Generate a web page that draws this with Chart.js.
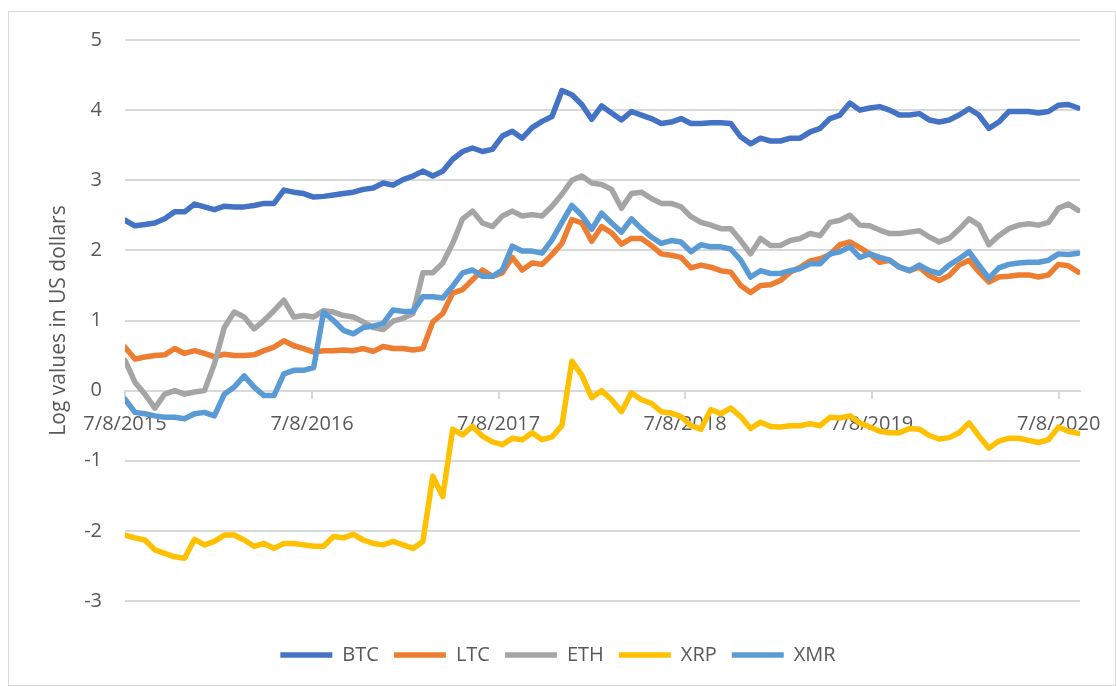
<!DOCTYPE html>
<html>
<head>
<meta charset="utf-8">
<script src="https://cdn.jsdelivr.net/npm/chart.js@4.4.0/dist/chart.umd.min.js"></script>
<style>
  html, body { margin: 0; padding: 0; background: #fff; }
  #wrap { position: relative; width: 1116px; height: 686px; overflow: hidden; }
  #frame { position: absolute; left: 8px; top: 11px; width: 1106px; height: 673px; border: 1px solid #d9d9d9; pointer-events: none; }
  canvas { position: absolute; left: 0; top: 0; }
</style>
</head>
<body>
<div id="wrap">
  <canvas id="chart" width="1116" height="686"></canvas>
  <div id="frame"></div>
</div>
<script>
// 目盛りラベル（x軸は 7/8/2015 からの日数）
const tickDays = [0, 366, 731, 1096, 1461, 1827];
const tickLabels = ['7/8/2015', '7/8/2016', '7/8/2017', '7/8/2018', '7/8/2019', '7/8/2020'];

// 系列名と色
const seriesNames = ['BTC', 'LTC', 'ETH', 'XRP', 'XMR'];
const seriesColors = ['#4472C4', '#ED7D31', '#A5A5A5', '#FFC000', '#5B9BD5'];

// 対数値（約19.4日ごと、画像から読み取り）
const btc = [
  2.43, 2.35, 2.37, 2.39, 2.45, 2.55, 2.55, 2.66, 2.62, 2.58,
  2.63, 2.62, 2.62, 2.64, 2.67, 2.67, 2.86, 2.83, 2.81, 2.76,
  2.77, 2.79, 2.81, 2.83, 2.87, 2.89, 2.96, 2.93, 3.01, 3.06,
  3.13, 3.06, 3.13, 3.30, 3.41, 3.46, 3.41, 3.44, 3.63, 3.70,
  3.60, 3.75, 3.84, 3.91, 4.28, 4.22, 4.08, 3.87, 4.06, 3.96,
  3.86, 3.98, 3.93, 3.88, 3.81, 3.83, 3.88, 3.81, 3.81, 3.82,
  3.82, 3.81, 3.62, 3.52, 3.60, 3.56, 3.56, 3.60, 3.60, 3.69,
  3.74, 3.88, 3.93, 4.10, 4.00, 4.03, 4.05, 4.00, 3.93, 3.93,
  3.95, 3.86, 3.83, 3.86, 3.93, 4.02, 3.93, 3.74, 3.83, 3.98,
  3.98, 3.98, 3.96, 3.98, 4.07, 4.08, 4.03
];
const ltc = [
  0.62, 0.45, 0.48, 0.50, 0.51, 0.60, 0.53, 0.57, 0.53, 0.48,
  0.52, 0.50, 0.50, 0.51, 0.57, 0.62, 0.71, 0.64, 0.60, 0.55,
  0.57, 0.57, 0.58, 0.57, 0.60, 0.56, 0.63, 0.60, 0.60, 0.58,
  0.60, 0.98, 1.10, 1.39, 1.44, 1.58, 1.72, 1.63, 1.68, 1.90,
  1.72, 1.82, 1.80, 1.94, 2.10, 2.44, 2.39, 2.13, 2.34, 2.25,
  2.09, 2.17, 2.17, 2.07, 1.95, 1.93, 1.90, 1.75, 1.79, 1.76,
  1.71, 1.69, 1.50, 1.40, 1.50, 1.51, 1.57, 1.69, 1.76, 1.85,
  1.88, 1.94, 2.08, 2.12, 2.04, 1.95, 1.83, 1.86, 1.76, 1.71,
  1.76, 1.64, 1.57, 1.64, 1.79, 1.86, 1.69, 1.55, 1.62, 1.63,
  1.65, 1.65, 1.62, 1.65, 1.80, 1.78, 1.69
];
const eth = [
  0.43, 0.12, -0.05, -0.25, -0.05, 0.00, -0.05, -0.02, 0.00, 0.38,
  0.90, 1.12, 1.05, 0.88, 1.00, 1.14, 1.29, 1.05, 1.07, 1.05,
  1.14, 1.12, 1.07, 1.05, 0.98, 0.90, 0.87, 0.99, 1.03, 1.10,
  1.68, 1.68, 1.82, 2.10, 2.45, 2.56, 2.39, 2.34, 2.49, 2.56,
  2.49, 2.51, 2.49, 2.63, 2.80, 3.00, 3.06, 2.96, 2.94, 2.87,
  2.60, 2.81, 2.83, 2.74, 2.67, 2.67, 2.62, 2.48, 2.40, 2.36,
  2.31, 2.31, 2.14, 1.95, 2.17, 2.07, 2.07, 2.14, 2.17, 2.24,
  2.21, 2.40, 2.43, 2.50, 2.36, 2.35, 2.29, 2.24, 2.24, 2.26,
  2.28, 2.19, 2.12, 2.17, 2.30, 2.45, 2.36, 2.08, 2.21, 2.31,
  2.36, 2.38, 2.36, 2.40, 2.60, 2.66, 2.57
];
const xrp = [
  -2.06, -2.10, -2.13, -2.27, -2.32, -2.37, -2.39, -2.12, -2.20, -2.15,
  -2.06, -2.06, -2.13, -2.22, -2.18, -2.25, -2.18, -2.18, -2.20, -2.22,
  -2.22, -2.08, -2.10, -2.05, -2.13, -2.18, -2.20, -2.15, -2.20, -2.25,
  -2.15, -1.22, -1.51, -0.55, -0.63, -0.51, -0.65, -0.73, -0.77, -0.68,
  -0.70, -0.60, -0.70, -0.66, -0.50, 0.42, 0.22, -0.10, 0.00, -0.13,
  -0.30, -0.03, -0.13, -0.18, -0.30, -0.32, -0.37, -0.50, -0.55, -0.27,
  -0.33, -0.25, -0.37, -0.54, -0.45, -0.51, -0.52, -0.50, -0.50, -0.47,
  -0.50, -0.38, -0.39, -0.36, -0.46, -0.52, -0.58, -0.60, -0.60, -0.54,
  -0.55, -0.64, -0.69, -0.67, -0.60, -0.46, -0.65, -0.82, -0.72, -0.68,
  -0.68, -0.71, -0.74, -0.70, -0.52, -0.58, -0.61
];
const xmr = [
  -0.12, -0.31, -0.33, -0.36, -0.38, -0.38, -0.40, -0.33, -0.31, -0.36,
  -0.05, 0.05, 0.21, 0.05, -0.07, -0.07, 0.24, 0.29, 0.29, 0.33,
  1.12, 1.00, 0.86, 0.81, 0.90, 0.92, 0.96, 1.15, 1.13, 1.13,
  1.34, 1.34, 1.32, 1.49, 1.68, 1.72, 1.63, 1.63, 1.72, 2.06,
  1.99, 1.99, 1.96, 2.15, 2.40, 2.64, 2.50, 2.30, 2.53, 2.39,
  2.26, 2.45, 2.31, 2.19, 2.10, 2.14, 2.12, 1.98, 2.08, 2.05,
  2.05, 2.02, 1.86, 1.62, 1.71, 1.67, 1.67, 1.71, 1.74, 1.81,
  1.81, 1.95, 1.98, 2.05, 1.90, 1.95, 1.90, 1.86, 1.76, 1.71,
  1.79, 1.71, 1.67, 1.79, 1.88, 1.98, 1.79, 1.60, 1.75, 1.80,
  1.82, 1.83, 1.83, 1.86, 1.95, 1.94, 1.96
];

const seriesValues = [btc, ltc, eth, xrp, xmr];
const STEP_DAYS = 19.43; // 1サンプルあたりの日数
const sampleDays = btc.map((_, i) => Math.round(i * STEP_DAYS * 10) / 10);

Chart.defaults.font.family = "'Open Sans', 'Liberation Sans', sans-serif";
Chart.defaults.color = '#595959';

const ctx = document.getElementById('chart').getContext('2d');
new Chart(ctx, {
  type: 'line',
  data: {
    datasets: seriesValues.map((vals, k) => ({
      label: seriesNames[k],
      data: vals.map((v, i) => ({ x: sampleDays[i], y: v })),
      borderColor: seriesColors[k],
      backgroundColor: seriesColors[k],
      borderWidth: 5.5,
      borderJoinStyle: 'round',
      borderCapStyle: 'round',
      pointRadius: 0,
      pointStyle: 'line',
      tension: 0,
      fill: false,
      order: 5 - k // 後の系列を上に描く
    }))
  },
  options: {
    responsive: false,
    animation: false,
    devicePixelRatio: 1,
    layout: { padding: { left: 29, top: 40, right: 29, bottom: 11 } },
    scales: {
      x: {
        type: 'linear',
        min: 0,
        max: 1869,
        position: { y: 0 }, // y=0 で交差
        afterBuildTicks: (scale) => { scale.ticks = tickDays.map(v => ({ value: v })); },
        ticks: {
          autoSkip: false,
          maxRotation: 0,
          padding: 15,
          color: '#595959',
          font: { size: 20 },
          callback: (v) => { const k = tickDays.indexOf(v); return k >= 0 ? tickLabels[k] : ''; }
        },
        grid: { drawOnChartArea: false, drawTicks: true, tickLength: 7, color: '#d9d9d9', lineWidth: 2 },
        border: { display: true, color: '#d9d9d9', width: 2 }
      },
      y: {
        min: -3,
        max: 5,
        afterFit: (scale) => { scale.width = 96; },
        ticks: { stepSize: 1, padding: 23, color: '#595959', font: { size: 20 } },
        grid: { color: '#d9d9d9', lineWidth: 2, drawTicks: false },
        border: { display: false },
        title: {
          display: true,
          text: 'Log values in US dollars',
          color: '#595959',
          font: { size: 21 },
          padding: { top: 17, bottom: 0 }
        }
      }
    },
    plugins: {
      tooltip: { enabled: false },
      legend: {
        position: 'bottom',
        labels: {
          usePointStyle: true,
          pointStyle: 'line',
          pointStyleWidth: 52,
          color: '#595959',
          font: { size: 20 },
          padding: 15,
          sort: (a, b) => a.datasetIndex - b.datasetIndex
        },
        title: { display: true, text: ' ', font: { size: 10 }, padding: { top: 17, bottom: 0 } }
      }
    }
  }
});
</script>
</body>
</html>
